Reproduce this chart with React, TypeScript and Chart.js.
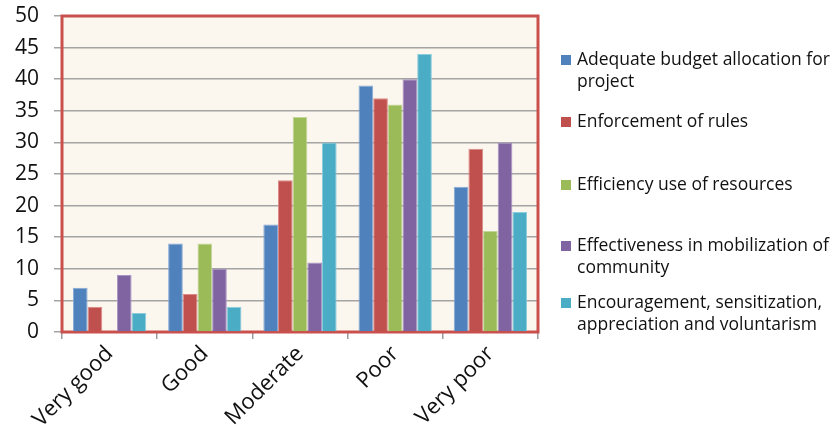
import React, { useEffect, useRef } from "react";
import { Chart, registerables } from "chart.js";

Chart.register(...registerables);

// Rating categories along the x axis
const categories = ["Very good", "Good", "Moderate", "Poor", "Very poor"];

// Responses per factor
const budgetAllocation = [7, 14, 17, 39, 23];
const enforcementOfRules = [4, 6, 24, 37, 29];
const efficiencyOfResources = [0, 14, 34, 36, 16];
const mobilizationOfCommunity = [9, 10, 11, 40, 30];
const encouragementVoluntarism = [3, 4, 30, 44, 19];

// Legend text, one entry per line
const seriesLabels = [
  ["Adequate budget allocation for", "project"],
  ["Enforcement of rules"],
  ["Efficiency use of resources"],
  ["Effectiveness in mobilization of", "community"],
  ["Encouragement, sensitization,", "appreciation and voluntarism"],
];

const yMin = 0;
const yMax = 50;
const yStep = 5;

const COLORS = ["#4F81BD", "#C0504D", "#9BBB59", "#8064A2", "#4BACC6"];
const EDGES = ["#86A9D8", "#DC8A88", "#C2D79A", "#A895C4", "#8CCDDD"];
const FONT = "'Open Sans', 'Liberation Sans', sans-serif";

export default function App() {
  const canvasRef = useRef<HTMLCanvasElement | null>(null);

  useEffect(() => {
    if (!canvasRef.current) return;
    const seriesValues = [
      budgetAllocation,
      enforcementOfRules,
      efficiencyOfResources,
      mobilizationOfCommunity,
      encouragementVoluntarism,
    ];

    const plotFrame = {
      id: "plotFrame",
      beforeDraw(chart: any) {
        const { ctx, chartArea: a } = chart;
        ctx.save();
        ctx.fillStyle = "#FCF7EE";
        ctx.fillRect(a.left, a.top, a.right - a.left, a.bottom - a.top);
        ctx.restore();
      },
      beforeDatasetsDraw(chart: any) {
        const { ctx, chartArea: a } = chart;
        ctx.save();
        ctx.strokeStyle = "#C9504D";
        ctx.lineWidth = 3;
        ctx.strokeRect(a.left, a.top, a.right - a.left, a.bottom - a.top);
        ctx.restore();
      },
    };

    const sideLegend = {
      id: "sideLegend",
      afterDraw(chart: any) {
        const { ctx, chartArea: a } = chart;
        const lineTops = [60, 122, 185, 246, 303];
        const lineHeight = 22;
        ctx.save();
        ctx.font = `17.5px ${FONT}`;
        ctx.textBaseline = "middle";
        seriesLabels.forEach((lines, i) => {
          const y0 = lineTops[i];
          ctx.fillStyle = COLORS[i];
          ctx.fillRect(a.right + 23, y0 - 5, 10, 10);
          ctx.fillStyle = "#111";
          lines.forEach((t, j) => {
            ctx.fillText(t, a.right + 39, y0 + j * lineHeight);
          });
        });
        ctx.restore();
      },
    };

    const chart = new Chart(canvasRef.current, {
      type: "bar",
      data: {
        labels: categories,
        datasets: seriesValues.map((values, i) => ({
          label: seriesLabels[i].join(" "),
          data: values,
          backgroundColor: COLORS[i],
          borderColor: EDGES[i],
          borderWidth: 1,
          borderSkipped: "bottom",
          categoryPercentage: 0.77,
          barPercentage: 1,
        })),
      },
      options: {
        animation: false,
        responsive: true,
        maintainAspectRatio: false,
        layout: { padding: { top: 16, right: 299, left: 0, bottom: 0 } },
        plugins: {
          legend: { display: false },
          tooltip: { enabled: false },
        },
        scales: {
          x: {
            offset: true,
            grid: {
              offset: true,
              drawOnChartArea: false,
              drawTicks: true,
              tickLength: 7,
              color: "#9A9A9A",
              lineWidth: 1.5,
            },
            border: { display: true, color: "#9A9A9A", width: 1.5 },
            ticks: {
              color: "#111",
              font: { family: FONT, size: 22 },
              minRotation: 45,
              maxRotation: 45,
              padding: 2,
            },
            afterFit(scale: any) {
              scale.height = 97;
              scale.paddingLeft = 0;
              scale.paddingRight = 0;
            },
          },
          y: {
            min: yMin,
            max: yMax,
            ticks: {
              stepSize: yStep,
              color: "#111",
              font: { family: FONT, size: 21 },
              padding: 15,
            },
            grid: {
              color: "#A4A4A4",
              lineWidth: 1.5,
              tickLength: 8,
            },
            border: { display: true, color: "#9A9A9A", width: 1.5 },
            afterFit(scale: any) {
              scale.width = 62;
              scale.paddingTop = 0;
              scale.paddingBottom = 0;
            },
          },
        },
      },
      plugins: [plotFrame, sideLegend],
    });

    return () => chart.destroy();
  }, []);

  return (
    <div style={{ position: "fixed", left: 0, top: 0, width: 837, height: 429, background: "#fff" }}>
      <canvas ref={canvasRef} />
    </div>
  );
}
